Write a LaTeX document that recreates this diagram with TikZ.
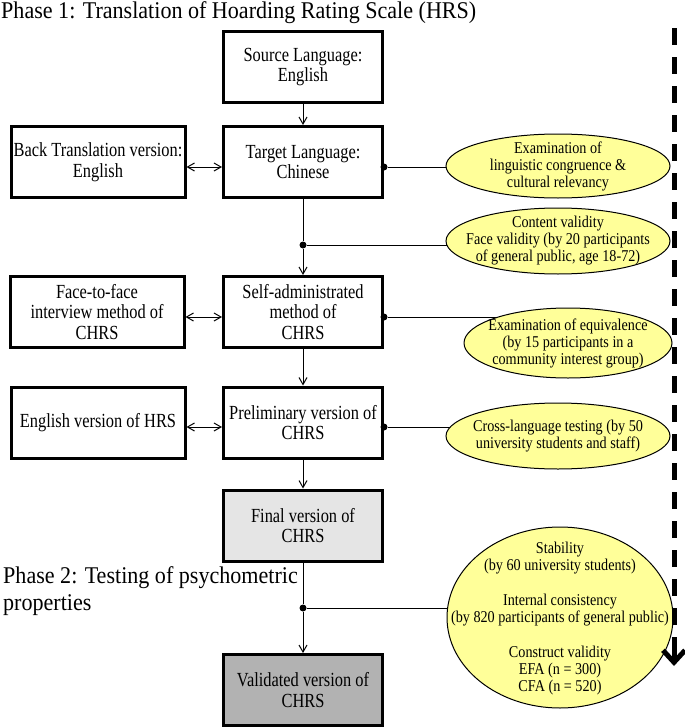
\documentclass[tikz,border=0pt]{standalone}
\usepackage{fontspec}
\setmainfont{Liberation Serif}
\newfontfamily\titlefont{Liberation Serif}[FakeStretch=0.92]
\newfontfamily\boxfont{Liberation Serif}[FakeStretch=0.82]
\newfontfamily\notefont{Liberation Serif}[FakeStretch=0.86]
\usetikzlibrary{arrows.meta,shapes.geometric,backgrounds}
\definecolor{notefill}{RGB}{255,255,153}
\tikzset{
  box/.style={draw, line width=3pt, minimum width=159pt, minimum height=71pt, align=center, inner sep=1pt, font=\boxfont\fontsize{20}{20.5}\selectfont},
  sidebox/.style={box, minimum width=174pt},
  note/.style={ellipse, draw, line width=1pt, fill=notefill, inner sep=0pt},
  notetext/.style={align=center, inner sep=0pt, font=\notefont\fontsize{16.5}{17}\selectfont},
  dot/.style={circle, fill=black, inner sep=0pt, minimum size=7pt},
  link/.style={line width=1pt},
  flow/.style={link, -{Straight Barb[length=7pt,width=8pt]}},
  twoway/.style={link, {Straight Barb[length=7pt,width=8pt]}-{Straight Barb[length=7pt,width=8pt]}},
  phase/.style={anchor=north west, align=left, inner sep=0pt, font=\titlefont\fontsize{24}{27}\selectfont},
  timeline/.style={line width=5pt}
}

\begin{document}
\begin{tikzpicture}[x=1pt, y=-1pt]
\useasboundingbox (0,0) rectangle (685,728);
% headings
\node[phase] (ph1) at (1,1) {Phase 1: Translation of Hoarding Rating Scale (HRS)};
\node[phase] (ph2) at (3,566) {Phase 2: Testing of psychometric\\properties};

% main column
\node[box] (src) at (303,67) {Source Language:\\English};
\node[box] (tgt) at (303,162) {Target Language:\\Chinese};
\node[box] (self) at (303,312) {Self-administrated\\method of\\CHRS};
\node[box] (pre) at (303,422.5) {Preliminary version of\\CHRS};
\node[box, fill=gray!20] (fin) at (303,525.5) {Final version of\\CHRS};
\node[box, fill=gray!60] (val) at (303,690) {Validated version of\\CHRS};

% left column
\node[sidebox] (back) at (98,162) {Back Translation version:\\English};
\node[sidebox] (face) at (97,312) {Face-to-face\\interview method of\\CHRS};
\node[sidebox] (eng) at (98,422.5) {English version of HRS};

% yellow notes
\node[note, minimum width=224pt, minimum height=64pt] (e1) at (558,166) {};
\node[notetext] at (e1) {Examination of\\linguistic congruence \&\\cultural relevancy};
\node[note, minimum width=224pt, minimum height=66pt] (e2) at (558,241) {};
\node[notetext] at (e2) {Content validity\\Face validity (by 20 participants\\of general public, age 18-72)};
\node[note, minimum width=208pt, minimum height=70pt] (e3) at (568,343) {};
\node[notetext] at (e3) {Examination of equivalence\\(by 15 participants in a\\community interest group)};
\node[note, minimum width=224pt, minimum height=66pt] (e4) at (558,436) {};
\node[notetext] at (e4) {Cross-language testing (by 50\\university students and staff)};
\node[note, minimum width=226pt, minimum height=181pt] (e5) at (560,617.5) {};
\node[notetext] at ([yshift=-1.5pt]e5.center) {Stability\\(by 60 university students)\\[18pt]Internal consistency\\(by 820 participants of general public)\\[18pt]Construct validity\\EFA (n = 300)\\CFA (n = 520)};

% junction dots
\node[dot] (d1) at ([yshift=-5pt]tgt.east) {};
\node[dot] (d2) at (303,245) {};
\node[dot] (d3) at ([yshift=-5pt]self.east) {};
\node[dot] (d4) at ([yshift=-4.5pt]pre.east) {};
\node[dot] (d5) at (303,608) {};

% arrows
\draw[flow] (src) -- (tgt);
\draw[link] (tgt) -- (d2);
\draw[flow] (d2) -- (self);
\draw[flow] (self) -- (pre);
\draw[flow] (pre) -- (fin);
\draw[link] (fin) -- (d5);
\draw[flow] (d5) -- (val);
\draw[twoway] ([yshift=-5pt]back.east) -- ([yshift=-5pt]tgt.west);
\draw[twoway] ([yshift=-5pt]face.east) -- ([yshift=-5pt]self.west);
\draw[twoway] ([yshift=-4.5pt]eng.east) -- ([yshift=-4.5pt]pre.west);

\begin{pgfonlayer}{background}
\draw[link] (d1) -- (d1 -| e1.center);
\draw[link] (d2) -- (d2 -| e2.center);
\draw[link] (d3) -- (d3 -| e3.center);
\draw[link] (d4) -- (d4 -| e4.center);
\draw[link] (d5) -- (d5 -| e5.center);
\end{pgfonlayer}

% time line
\coordinate (tl-top) at (674,28);
\coordinate (tl-mid) at (674,640);
\coordinate (tl-end) at (674,666);
\draw[timeline, dash pattern=on 17pt off 12pt] (tl-top) -- (tl-mid);
\draw[timeline, -{Straight Barb[length=12pt,width=22pt]}] (tl-mid) -- (tl-end);
\end{tikzpicture}
\end{document}
